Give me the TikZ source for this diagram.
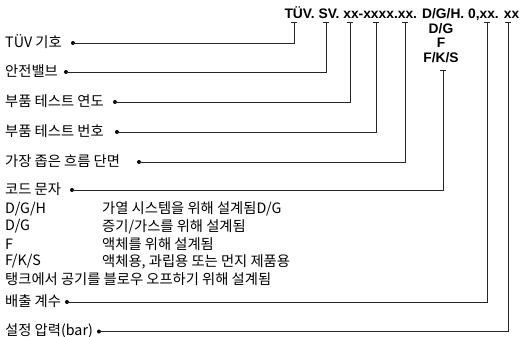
\documentclass[tikz,border=0pt]{standalone}
\usepackage{fontspec}
\newfontfamily\krfont{Noto Sans CJK KR}
\newfontfamily\hdfont{Liberation Sans}
\begin{document}
\begin{tikzpicture}[x=1pt,y=-1pt,
  lbl/.style={anchor=west,inner sep=0pt,font=\krfont\fontsize{14.3}{16}\selectfont},
  hdr/.style={inner sep=0pt,font=\hdfont\bfseries\fontsize{13.8}{15}\selectfont},
  dotnode/.style={circle,fill=black,inner sep=0pt,minimum size=4pt},
  ln/.style={line width=0.9pt,draw=black!85}]
\useasboundingbox (0,0) rectangle (520,337);

% header texts
\node[hdr,anchor=base east] (hd) at (519.5,18.5) {TÜV. SV. xx-xxxx.xx. D/G/H. 0,xx. xx};
\node[hdr,anchor=base] (c1) at (441,33.5) {D/G};
\node[hdr,anchor=base] (c2) at (441,48) {F};
\node[hdr,anchor=base] (c3) at (441,63) {F/K/S};

% tick tops
\coordinate (t1) at (294,22.5);
\coordinate (t2) at (326,22.5);
\coordinate (t3) at (350,22.5);
\coordinate (t4) at (376,22.5);
\coordinate (t5) at (405,22.5);
\coordinate (t6) at (443,70);
\coordinate (t7) at (487,22.5);
\coordinate (t8) at (508,22.5);

% labels
\node[lbl] (l1) at (5,42) {TÜV 기호};
\node[lbl] (l2) at (5,71.5) {안전밸브};
\node[lbl] (l3) at (5,101.5) {부품 테스트 연도};
\node[lbl] (l4) at (5,131.5) {부품 테스트 번호};
\node[lbl] (l5) at (5,161.5) {가장 좁은 흐름 단면};
\node[lbl] (l6) at (5,189) {코드 문자};
\node[lbl] (r1a) at (5,209) {D/G/H};
\node[lbl] (r1b) at (102,209) {가열 시스템을 위해 설계됨D/G};
\node[lbl] (r2a) at (5,226.5) {D/G};
\node[lbl] (r2b) at (102,226.5) {증기/가스를 위해 설계됨};
\node[lbl] (r3a) at (5,244) {F};
\node[lbl] (r3b) at (102,244) {액체를 위해 설계됨};
\node[lbl] (r4a) at (5,261.5) {F/K/S};
\node[lbl] (r4b) at (102,261.5) {액체용, 과립용 또는 먼지 제품용};
\node[lbl] (r5) at (5,279) {탱크에서 공기를 블로우 오프하기 위해 설계됨};
\node[lbl] (l7) at (5,301.5) {배출 계수};
\node[lbl] (l8) at (5,330.5) {설정 압력(bar)};

% dots
\node[dotnode] (d1) at (73,43) {};
\node[dotnode] (d2) at (66,72) {};
\node[dotnode] (d3) at (115,102) {};
\node[dotnode] (d4) at (117,132) {};
\node[dotnode] (d5) at (139,162) {};
\node[dotnode] (d6) at (72,190) {};
\node[dotnode] (d7) at (67,302) {};
\node[dotnode] (d8) at (99,331.5) {};

% connectors
\foreach \i in {1,...,8}{
  \draw[ln] (d\i.center) -| (t\i);
  \draw[ln] ([xshift=-3pt]t\i) -- ([xshift=3pt]t\i);
}
\end{tikzpicture}
\end{document}
